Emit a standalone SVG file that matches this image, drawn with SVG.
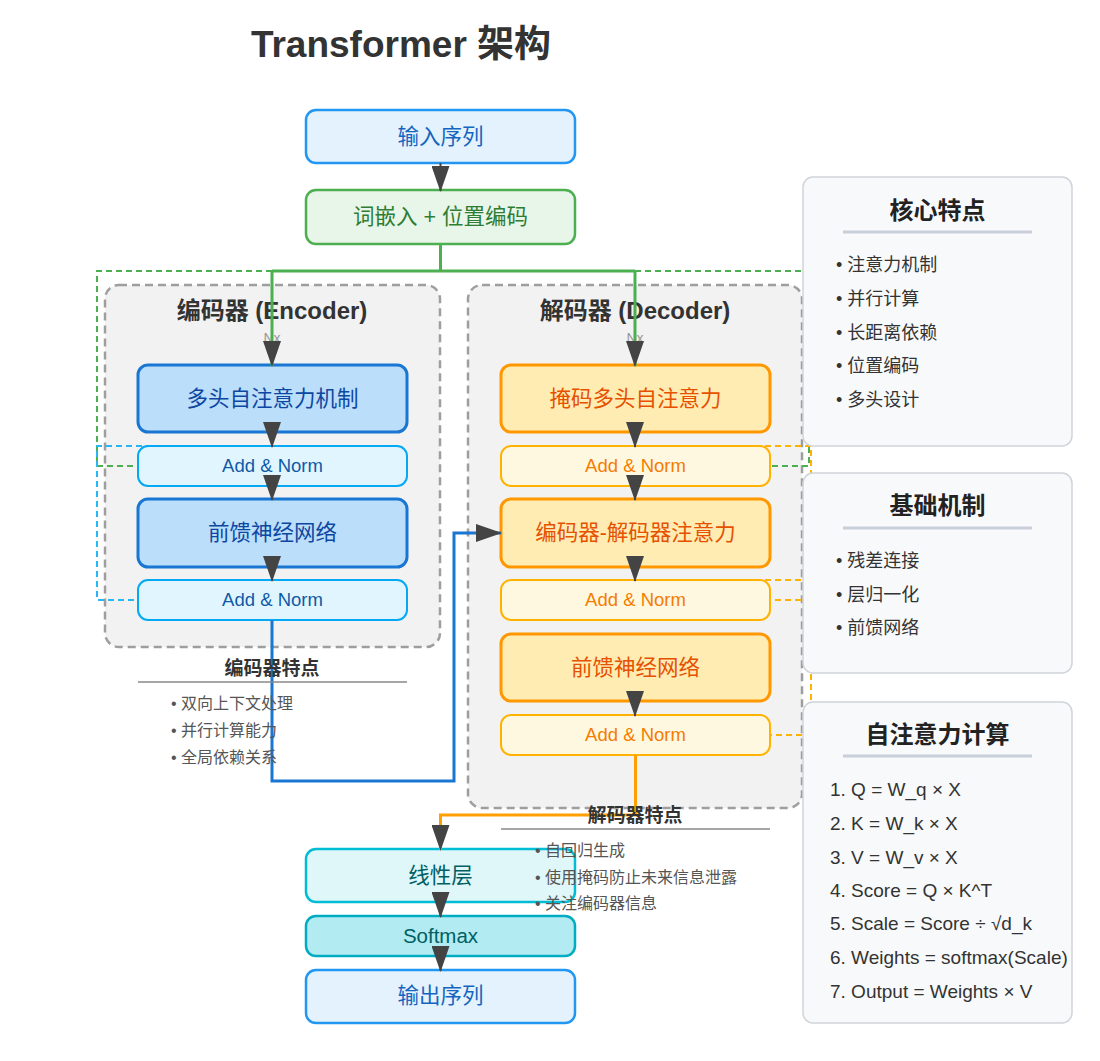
<svg xmlns="http://www.w3.org/2000/svg" width="1100" height="1061" viewBox="0 0 1100 1061">
<style>
text{font-family:"Liberation Sans","Noto Sans CJK SC",sans-serif}
.title{font-size:37px;font-weight:bold;fill:#333;text-anchor:middle}
.ctitle{font-size:24px;font-weight:bold;fill:#333;text-anchor:middle}
.nx{font-size:14px;fill:#999;text-anchor:middle}
.container{fill:#f2f2f2;stroke:#9e9e9e;stroke-width:2.5;stroke-dasharray:8 5}
.big{font-size:21.5px;text-anchor:middle}
.an{font-size:18.5px;text-anchor:middle}
.enc-main{fill:#bbdefb;stroke:#1976d2;stroke-width:3}
.enc-an{fill:#e1f5fe;stroke:#03a9f4;stroke-width:2}
.dec-main{fill:#ffecb3;stroke:#ff9800;stroke-width:3}
.dec-an{fill:#fff8e1;stroke:#ffb300;stroke-width:2}
.io{fill:#e3f2fd;stroke:#2196f3;stroke-width:2.5}
.emb{fill:#e8f5e9;stroke:#4caf50;stroke-width:2.5}
.lin{fill:#e0f7fa;stroke:#00bcd4;stroke-width:2.5}
.soft{fill:#b2ebf2;stroke:#00acc1;stroke-width:2.5}
.t-enc{fill:#0d47a1}
.t-enca{fill:#0d5aa7}
.t-dec{fill:#e65100}
.t-deca{fill:#f57c00}
.t-io{fill:#1565c0}
.t-emb{fill:#2e7d32}
.t-lin{fill:#006064}
.res{fill:none;stroke-width:2;stroke-dasharray:6 4}
.res-g{stroke:#4caf50}
.res-b{stroke:#29b6f6}
.res-o{stroke:#ffb300}
.flow{fill:none;stroke:#444;stroke-width:2;marker-end:url(#ah)}
.flow-g{fill:none;stroke:#4caf50;stroke-width:3}
.flow-b{fill:none;stroke:#1976d2;stroke-width:3;marker-end:url(#ah)}
.flow-o{fill:none;stroke:#ffa000;stroke-width:3;marker-end:url(#ah)}
.arrow-g{marker-end:url(#ah)}
.feath{font-size:19px;font-weight:bold;fill:#333;text-anchor:middle}
.featb{font-size:16px;fill:#555}
.panel{fill:#f8f9fa;stroke:#cfd4da;stroke-width:1.5}
.ptitle{font-size:24px;font-weight:bold;fill:#222;text-anchor:middle}
.pline{stroke:#c8cfd8;stroke-width:3}
.pitem{font-size:18px;fill:#333}
.formula{font-size:19px;fill:#333}
</style>
<defs>
<marker id="ah" markerUnits="userSpaceOnUse" markerWidth="26" markerHeight="18" refX="25" refY="9" orient="auto">
<path d="M0,0 L26,9 L0,18 z" fill="#444"/>
</marker>
</defs>
<rect width="1100" height="1061" fill="#ffffff"/>
<text class="title" x="401" y="57">Transformer 架构</text>

<g id="encoder-container">
<rect class="container" x="105" y="285" width="335" height="362" rx="14"/>
<text class="ctitle" x="272" y="319">编码器 (Encoder)</text>
<text class="nx" x="272" y="343">Nx</text>
</g>
<g id="decoder-container">
<rect class="container" x="468" y="285" width="334" height="523" rx="14"/>
<text class="ctitle" x="635" y="319">解码器 (Decoder)</text>
<text class="nx" x="635" y="343">Nx</text>
</g>

<g id="residual-connectors">
<path class="res res-g" d="M272 271 H97 V466 H138"/>
<path class="res res-b" d="M272 446 H97 V600 H138"/>
<path class="res res-g" d="M635 271 H809 V466 H770"/>
<path class="res res-o" d="M635 446 H811 V600 H770"/>
<path class="res res-o" d="M635 580 H811 V735 H770"/>
</g>

<g id="input">
<rect class="io" x="306" y="110" width="269" height="53" rx="10"/>
<text class="big t-io" x="440.5" y="144">输入序列</text>
</g>
<g id="embedding">
<rect class="emb" x="306" y="190" width="269" height="54" rx="10"/>
<text class="big t-emb" x="440.5" y="224">词嵌入 + 位置编码</text>
</g>

<g id="enc-mha">
<rect class="enc-main" x="138" y="365" width="269" height="67" rx="10"/>
<text class="big t-enc" x="272.5" y="406">多头自注意力机制</text>
</g>
<g id="enc-addnorm1">
<rect class="enc-an" x="138" y="446" width="269" height="40" rx="10"/>
<text class="an t-enca" x="272.5" y="472">Add &amp; Norm</text>
</g>
<g id="enc-ffn">
<rect class="enc-main" x="138" y="499" width="269" height="68" rx="10"/>
<text class="big t-enc" x="272.5" y="540">前馈神经网络</text>
</g>
<g id="enc-addnorm2">
<rect class="enc-an" x="138" y="580" width="269" height="40" rx="10"/>
<text class="an t-enca" x="272.5" y="606">Add &amp; Norm</text>
</g>

<g id="dec-mmha">
<rect class="dec-main" x="501" y="365" width="269" height="67" rx="10"/>
<text class="big t-dec" x="635.5" y="406">掩码多头自注意力</text>
</g>
<g id="dec-addnorm1">
<rect class="dec-an" x="501" y="446" width="269" height="40" rx="10"/>
<text class="an t-deca" x="635.5" y="472">Add &amp; Norm</text>
</g>
<g id="dec-cross">
<rect class="dec-main" x="501" y="499" width="269" height="68" rx="10"/>
<text class="big t-dec" x="635.5" y="540">编码器-解码器注意力</text>
</g>
<g id="dec-addnorm2">
<rect class="dec-an" x="501" y="580" width="269" height="40" rx="10"/>
<text class="an t-deca" x="635.5" y="606">Add &amp; Norm</text>
</g>
<g id="dec-ffn">
<rect class="dec-main" x="501" y="634" width="269" height="67" rx="10"/>
<text class="big t-dec" x="635.5" y="675">前馈神经网络</text>
</g>
<g id="dec-addnorm3">
<rect class="dec-an" x="501" y="715" width="269" height="40" rx="10"/>
<text class="an t-deca" x="635.5" y="741">Add &amp; Norm</text>
</g>

<g id="linear">
<rect class="lin" x="306" y="849" width="269" height="53" rx="10"/>
<text class="big t-lin" x="440.5" y="883">线性层</text>
</g>
<g id="softmax">
<rect class="soft" x="306" y="916" width="269" height="40" rx="10"/>
<text class="t-lin" x="440.5" y="943" font-size="20.5" text-anchor="middle">Softmax</text>
</g>
<g id="output">
<rect class="io" x="306" y="970" width="269" height="53" rx="10"/>
<text class="big t-io" x="440.5" y="1003">输出序列</text>
</g>

<g id="connectors">
<path class="flow" d="M440.5 163 V191"/>
<path class="flow-g" d="M440.5 244 V271 M272 271 H635"/>
<path class="flow-g arrow-g" d="M272 271 V366"/>
<path class="flow-g arrow-g" d="M635 271 V366"/>
<path class="flow" d="M272 432 V447"/>
<path class="flow" d="M272 486 V500"/>
<path class="flow" d="M272 567 V581"/>
<path class="flow" d="M635 432 V447"/>
<path class="flow" d="M635 486 V500"/>
<path class="flow" d="M635 567 V581"/>
<path class="flow" d="M635 701 V716"/>
<path class="flow-b" d="M272 620 V781 H454 V533 H501"/>
<path class="flow-o" d="M635.5 755 V815 H440.5 V850"/>
<path class="flow" d="M440.5 902 V917"/>
<path class="flow" d="M440.5 956 V971"/>
</g>

<g id="encoder-features">
<text class="feath" x="272" y="675">编码器特点</text>
<line x1="138" y1="682" x2="407" y2="682" stroke="#888" stroke-width="1.5"/>
<text class="featb" x="171" y="709">• 双向上下文处理</text>
<text class="featb" x="171" y="736">• 并行计算能力</text>
<text class="featb" x="171" y="763">• 全局依赖关系</text>
</g>
<g id="decoder-features">
<text class="feath" x="635" y="822">解码器特点</text>
<line x1="501" y1="829" x2="770" y2="829" stroke="#888" stroke-width="1.5"/>
<text class="featb" x="535" y="856">• 自回归生成</text>
<text class="featb" x="535" y="883">• 使用掩码防止未来信息泄露</text>
<text class="featb" x="535" y="909">• 关注编码器信息</text>
</g>

<g id="panel-core">
<rect class="panel" x="803" y="177" width="269" height="269" rx="10"/>
<text class="ptitle" x="937.5" y="219">核心特点</text>
<line class="pline" x1="843" y1="232" x2="1032" y2="232"/>
<text class="pitem" x="836" y="271">• 注意力机制</text>
<text class="pitem" x="836" y="305">• 并行计算</text>
<text class="pitem" x="836" y="339">• 长距离依赖</text>
<text class="pitem" x="836" y="372">• 位置编码</text>
<text class="pitem" x="836" y="406">• 多头设计</text>
</g>
<g id="panel-basic">
<rect class="panel" x="803" y="473" width="269" height="200" rx="10"/>
<text class="ptitle" x="937.5" y="514">基础机制</text>
<line class="pline" x1="843" y1="528" x2="1032" y2="528"/>
<text class="pitem" x="836" y="567">• 残差连接</text>
<text class="pitem" x="836" y="601">• 层归一化</text>
<text class="pitem" x="836" y="634">• 前馈网络</text>
</g>
<g id="panel-attention">
<rect class="panel" x="803" y="702" width="269" height="321" rx="10"/>
<text class="ptitle" x="937.5" y="743">自注意力计算</text>
<line class="pline" x1="843" y1="756" x2="1032" y2="756"/>
<text class="formula" x="830" y="796">1. Q = W_q × X</text>
<text class="formula" x="830" y="830">2. K = W_k × X</text>
<text class="formula" x="830" y="864">3. V = W_v × X</text>
<text class="formula" x="830" y="897">4. Score = Q × K^T</text>
<text class="formula" x="830" y="930">5. Scale = Score ÷ √d_k</text>
<text class="formula" x="830" y="964">6. Weights = softmax(Scale)</text>
<text class="formula" x="830" y="998">7. Output = Weights × V</text>
</g>
</svg>
